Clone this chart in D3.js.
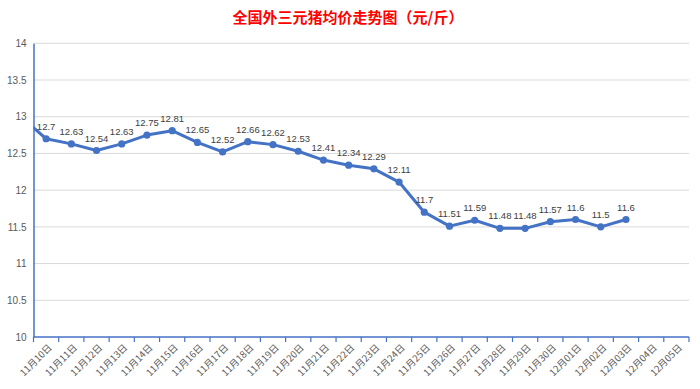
<!DOCTYPE html>
<html>
<head>
<meta charset="utf-8">
<script src="https://cdn.jsdelivr.net/npm/d3@7"></script>
<style>
  body { margin: 0; background: #fff; }
  text { font-family: "Noto Sans CJK SC", "Microsoft YaHei", sans-serif; }
  text.num { font-family: "Liberation Sans", Arial, sans-serif; }
</style>
</head>
<body>
<div id="graph"></div>
<script>
// categories shown on the x axis
const dates = ["11月10日","11月11日","11月12日","11月13日","11月14日","11月15日","11月16日",
  "11月17日","11月18日","11月19日","11月20日","11月21日","11月22日","11月23日","11月24日",
  "11月25日","11月26日","11月27日","11月28日","11月29日","11月30日","12月01日","12月02日",
  "12月03日","12月04日","12月05日"];
// price per day (empty days at the end have no data)
const prices = [12.7,12.63,12.54,12.63,12.75,12.81,12.65,12.52,12.66,12.62,12.53,12.41,12.34,
  12.29,12.11,11.7,11.51,11.59,11.48,11.48,11.57,11.6,11.5,11.6];
// the day before the first category, line runs in from the axis
const prevPrice = 13.0;
const yTicks = [10,10.5,11,11.5,12,12.5,13,13.5,14];

const width = 700, height = 389;
const margin = {top: 43.3, right: 11, bottom: 52, left: 33.5};
const blue = "#4472C4";

const svg = d3.select("#graph").append("svg")
    .attr("width", width)
    .attr("height", height);

svg.append("text")
    .attr("x", 348)
    .attr("y", 23)
    .attr("text-anchor", "middle")
    .attr("fill", "#ff0000")
    .attr("font-size", "15px")
    .attr("font-weight", "bold")
    .text("全国外三元猪均价走势图（元/斤）");

const x = d3.scaleBand()
    .domain(dates)
    .range([margin.left, width - margin.right]);

const y = d3.scaleLinear()
    .domain([10, 14])
    .range([height - margin.bottom, margin.top]);

// gridlines
svg.append("g")
    .selectAll("line")
    .data(yTicks.slice(1))
    .join("line")
      .attr("x1", margin.left)
      .attr("x2", width - margin.right)
      .attr("y1", d => y(d))
      .attr("y2", d => y(d))
      .attr("stroke", "#d9d9d9")
      .attr("stroke-width", 1);

// y axis
const yAxis = svg.append("g")
    .attr("transform", `translate(${margin.left},0)`)
    .call(d3.axisLeft(y).tickValues(yTicks).tickSize(0).tickPadding(7).tickFormat(d3.format("")));
yAxis.select(".domain").attr("stroke", blue).attr("stroke-width", 1.5);
yAxis.selectAll("text").attr("class", "num").attr("fill", "#595959").attr("font-size", "10px");

// x axis, ticks between categories
const xAxis = svg.append("g")
    .attr("transform", `translate(0,${y(10)})`);
xAxis.append("line")
    .attr("x1", margin.left).attr("x2", width - margin.right)
    .attr("stroke", blue).attr("stroke-width", 1.5);
xAxis.selectAll(".tk")
    .data(dates.concat(["end"]))
    .join("line")
      .attr("class", "tk")
      .attr("x1", (d, i) => i < dates.length ? x(d) : x.range()[1])
      .attr("x2", (d, i) => i < dates.length ? x(d) : x.range()[1])
      .attr("y1", 0).attr("y2", 5)
      .attr("stroke", blue).attr("stroke-width", 1.2);
xAxis.selectAll(".lbl")
    .data(dates)
    .join("text")
      .attr("class", "lbl")
      .attr("transform", d => `translate(${x(d) + x.bandwidth() / 2 + 4},${9}) rotate(-45)`)
      .attr("text-anchor", "end")
      .attr("dy", "0.35em")
      .attr("fill", "#595959")
      .attr("font-size", "9.5px")
      .text(d => d);

// line
const cx = (d, i) => x(dates[i]) + x.bandwidth() / 2;
const pts = prices.map((v, i) => [cx(null, i), y(v)]);
const prevX = cx(null, 0) - x.step();
svg.append("clipPath").attr("id", "plot")
  .append("rect")
    .attr("x", margin.left).attr("y", 0)
    .attr("width", width - margin.left - margin.right).attr("height", height);

svg.append("path")
    .datum([[prevX, y(prevPrice)]].concat(pts))
    .attr("clip-path", "url(#plot)")
    .attr("fill", "none")
    .attr("stroke", blue)
    .attr("stroke-width", 3)
    .attr("stroke-linejoin", "round")
    .attr("d", d3.line());

svg.append("g")
    .selectAll("circle")
    .data(pts)
    .join("circle")
      .attr("cx", d => d[0])
      .attr("cy", d => d[1])
      .attr("r", 3.6)
      .attr("fill", blue);

svg.append("g")
    .selectAll("text")
    .data(prices)
    .join("text")
      .attr("class", "num")
      .attr("x", (d, i) => cx(null, i))
      .attr("y", d => y(d) - 9)
      .attr("text-anchor", "middle")
      .attr("fill", "#404040")
      .attr("font-size", "9.5px")
      .text(d => d);
</script>
</body>
</html>
